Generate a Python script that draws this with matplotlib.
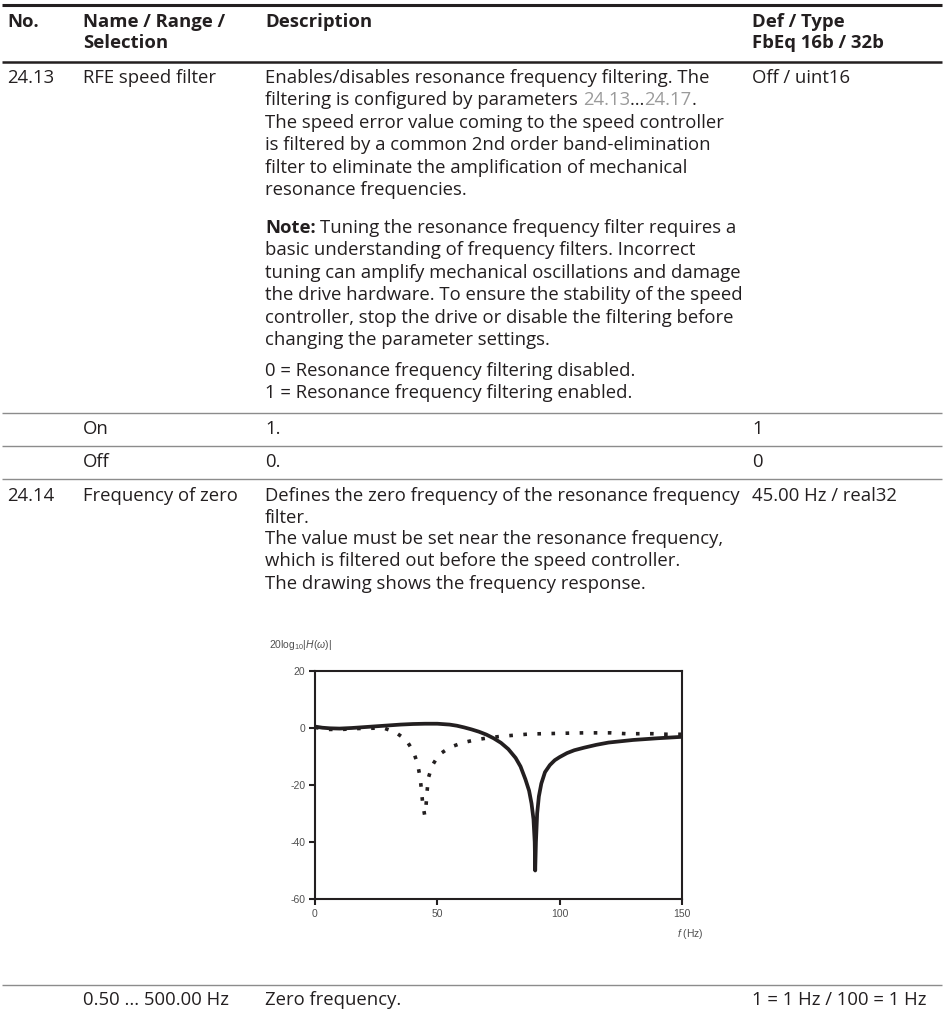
import numpy as np
import matplotlib
matplotlib.use("Agg")
import matplotlib.pyplot as plt

plt.rcParams["font.family"] = ["Open Sans", "Noto Sans", "DejaVu Sans"]
plt.rcParams["mathtext.fontset"] = "custom"
plt.rcParams["mathtext.rm"] = "Liberation Sans"
plt.rcParams["mathtext.it"] = "Liberation Sans:italic"
plt.rcParams["axes.unicode_minus"] = False

#%% data
f_solid = [0, 3, 6, 10, 15, 20, 25, 30, 35, 40, 45, 50, 55, 58, 61, 64, 67, 70,
           73, 76, 79, 82, 84, 86, 87.5, 88.5, 89.3, 89.8, 90.0, 90.3, 90.8,
           91.5, 92.5, 94, 96, 98, 100, 103, 106, 110, 115, 120, 130, 140, 150]
db_solid = [0.5, 0.1, -0.1, -0.2, 0.0, 0.3, 0.6, 0.9, 1.2, 1.4, 1.5, 1.5, 1.2,
            0.8, 0.2, -0.5, -1.3, -2.3, -3.6, -5.2, -7.4, -10.5, -13.5, -18.0,
            -22.0, -26.5, -32.0, -40.0, -50.0, -40.0, -30.0, -24.0, -19.5,
            -15.5, -13.0, -11.3, -10.2, -8.8, -7.8, -6.9, -5.9, -5.1, -4.2,
            -3.6, -3.1]

f_dotted = [0, 5, 11, 17, 28, 32.7, 37.2, 40.2, 41.9, 42.9, 43.5, 44.0, 44.8,
            45.4, 45.8, 46.3, 47.9, 50.6, 55.1, 60.2, 65.3, 70.5, 76.2, 82,
            87.8, 93.2, 98.7, 104, 110, 115.7, 121, 127, 132.7, 138, 144, 150]
db_dotted = [0.2, -0.5, -0.5, -0.2, 0.0, -1.4, -4.1, -8.2, -12.5, -17.0, -21.6,
             -26.4, -30.5, -27.0, -22.4, -17.6, -13.2, -9.4, -6.8, -5.2, -4.2,
             -3.5, -2.9, -2.5, -2.1, -2.0, -1.9, -1.8, -1.7, -1.7, -1.7, -2.0,
             -2.0, -2.0, -2.2, -2.2]

x_ticks = [0, 50, 100, 150]
y_ticks = [-60, -40, -20, 0, 20]

header = ["No.", "Name / Range /\nSelection", "Description", "Def / Type\nFbEq 16b / 32b"]

desc_1 = ["Enables/disables resonance frequency filtering. The",
          None,  # line with grey links, drawn separately
          "The speed error value coming to the speed controller",
          "is filtered by a common 2nd order band-elimination",
          "filter to eliminate the amplification of mechanical",
          "resonance frequencies."]
note_lines = ["Tuning the resonance frequency filter requires a",
              "basic understanding of frequency filters. Incorrect",
              "tuning can amplify mechanical oscillations and damage",
              "the drive hardware. To ensure the stability of the speed",
              "controller, stop the drive or disable the filtering before",
              "changing the parameter settings."]
sel_lines = ["0 = Resonance frequency filtering disabled.",
             "1 = Resonance frequency filtering enabled."]
desc_2 = ["Defines the zero frequency of the resonance frequency",
          "filter.",
          "The value must be set near the resonance frequency,",
          "which is filtered out before the speed controller.",
          "The drawing shows the frequency response."]

#%% page
W, H = 944, 1017
fig = plt.figure(figsize=(W / 100, H / 100), dpi=100)
page = fig.add_axes([0, 0, 1, 1])
page.set_xlim(0, W)
page.set_ylim(H, 0)
page.axis("off")

ink = "#231f20"
grey_rule = "#8c8c8c"
link = "#9a9a9a"
fs = 13.3
col = [7, 83, 265, 752]
lh = 22.4

renderer = fig.canvas.get_renderer()


def txt(x, y, s, **kw):
    kw.setdefault("color", ink)
    kw.setdefault("fontsize", fs)
    return page.text(x, y, s, va="center", ha="left", **kw)


def width(t):
    return t.get_window_extent(renderer).width


def space_width(**kw):
    a = txt(100, 100, "a a", **kw)
    b = txt(100, 100, "aa", **kw)
    w = width(a) - width(b)
    a.remove()
    b.remove()
    return w


def rule(y, lw, c):
    page.plot([2, W - 2], [y, y], color=c, lw=lw, solid_capstyle="butt")


# rules
rule(5, 2.2, ink)
rule(62, 1.8, ink)
for yy in [413, 446, 479, 985]:
    rule(yy, 1.0, grey_rule)

# header
y0 = 22
for c, h in zip(col, header):
    for k, line in enumerate(h.split("\n")):
        txt(c, y0 + k * 21, line, fontweight="bold")

sp = space_width()

# row 24.13
y = 78
txt(col[0], y, "24.13")
txt(col[1], y, "RFE speed filter")
txt(col[3], y, "Off / uint16")
for k, line in enumerate(desc_1):
    yy = y + k * lh
    if line is None:
        t = txt(col[2], yy, "filtering is configured by parameters")
        x = col[2] + width(t) + sp
        t = txt(x, yy, "24.13", color=link)
        x += width(t)
        t = txt(x, yy, "\u2026")
        x += width(t)
        t = txt(x, yy, "24.17", color=link)
        x += width(t)
        txt(x, yy, ".")
    else:
        txt(col[2], yy, line)

y = 228
t = txt(col[2], y, "Note:", fontweight="bold")
txt(col[2] + width(t) + sp, y, note_lines[0])
for k, line in enumerate(note_lines[1:]):
    txt(col[2], y + (k + 1) * lh, line)

y = 371
for k, line in enumerate(sel_lines):
    txt(col[2], y + k * lh, line)

# On / Off
txt(col[1], 429, "On")
txt(col[2], 429, "1.")
txt(col[3], 429, "1")
txt(col[1], 462, "Off")
txt(col[2], 462, "0.")
txt(col[3], 462, "0")

# row 24.14
y = 496
txt(col[0], y, "24.14")
txt(col[1], y, "Frequency of zero")
txt(col[3], y, "45.00 Hz / real32")
for k, line in enumerate(desc_2):
    txt(col[2], y + k * lh - (2 if k > 1 else 0), line)

# bottom row
txt(col[1], 1000, "0.50 ... 500.00 Hz")
txt(col[2], 1000, "Zero frequency.")
txt(col[3], 1000, "1 = 1 Hz / 100 = 1 Hz")

#%% chart
ax_l, ax_r, ax_t, ax_b = 315, 682, 671, 899
ax = fig.add_axes([ax_l / W, 1 - ax_b / H, (ax_r - ax_l) / W, (ax_b - ax_t) / H])
ax.plot(f_dotted, db_dotted, color=ink, lw=2.6, linestyle=(0, (1.0, 2.9)),
        dash_capstyle="butt")
ax.plot(f_solid, db_solid, color=ink, lw=2.7, solid_joinstyle="round")
ax.set_xlim(0, 150)
ax.set_ylim(-60, 20)
ax.set_xticks(x_ticks)
ax.set_yticks(y_ticks)
for s in ax.spines.values():
    s.set_linewidth(1.5)
    s.set_color(ink)
tick_grey = "#505050"
ax.tick_params(direction="out", length=4.5, width=1.5, color=ink,
               labelsize=7.5, labelcolor=tick_grey, pad=2.5)
for lab in ax.get_xticklabels() + ax.get_yticklabels():
    lab.set_family("Liberation Sans")

page.text(269, 645, r"20log$_{10}$|$H(\omega)$|", fontsize=7.5, color=tick_grey,
          family="Liberation Sans", va="center", ha="left")
page.text(677, 934, r"$f$ (Hz)", fontsize=7.5, color=tick_grey,
          family="Liberation Sans", va="center", ha="left")

fig.savefig("out.png", dpi=100)
